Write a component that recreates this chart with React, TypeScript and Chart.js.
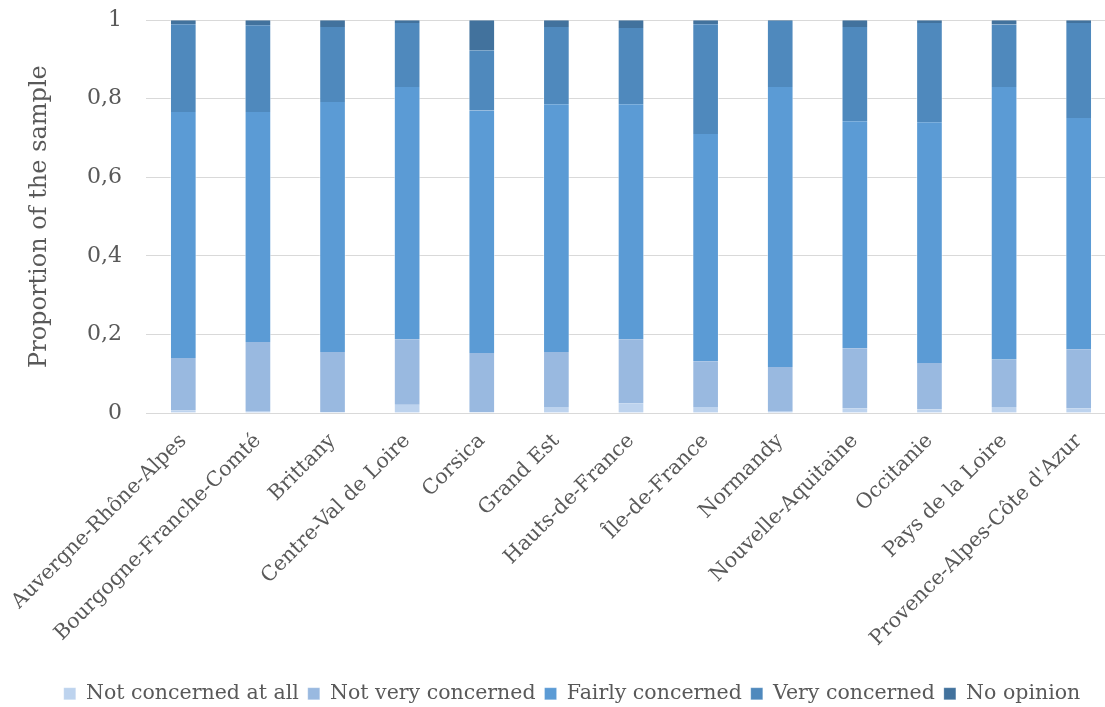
import React, { useEffect, useRef } from "react";
import { Chart, registerables } from "chart.js";

Chart.register(...registerables);

const categories = [
  "Auvergne-Rhône-Alpes",
  "Bourgogne-Franche-Comté",
  "Brittany",
  "Centre-Val de Loire",
  "Corsica",
  "Grand Est",
  "Hauts-de-France",
  "Île-de-France",
  "Normandy",
  "Nouvelle-Aquitaine",
  "Occitanie",
  "Pays de la Loire",
  "Provence-Alpes-Côte d'Azur",
];

const notConcernedAtAll = [0.007, 0.005, 0.002, 0.021, 0.002, 0.015, 0.025, 0.015, 0.005, 0.012, 0.009, 0.015, 0.012];
const notVeryConcerned = [0.133, 0.176, 0.153, 0.167, 0.151, 0.14, 0.163, 0.117, 0.112, 0.153, 0.118, 0.121, 0.15];
const fairlyConcerned = [0.626, 0.585, 0.637, 0.642, 0.617, 0.631, 0.598, 0.578, 0.713, 0.578, 0.613, 0.694, 0.589];
const veryConcerned = [0.224, 0.221, 0.191, 0.163, 0.153, 0.197, 0.194, 0.28, 0.168, 0.24, 0.253, 0.159, 0.242];
const noOpinion = [0.01, 0.013, 0.017, 0.007, 0.077, 0.017, 0.02, 0.01, 0.002, 0.017, 0.007, 0.011, 0.007];

const seriesNames = ["Not concerned at all", "Not very concerned", "Fairly concerned", "Very concerned", "No opinion"];
const seriesColors = ["#BDD3EE", "#99B9E0", "#5B9BD5", "#4F89BD", "#42729D"];
const yTickLabels = ["0", "0,2", "0,4", "0,6", "0,8", "1"];

const FONT = "'DejaVu Serif', serif";
const TEXT = "#595959";

export default function App() {
  const ref = useRef<HTMLCanvasElement | null>(null);

  useEffect(() => {
    if (!ref.current) return;
    const seriesData = [notConcernedAtAll, notVeryConcerned, fairlyConcerned, veryConcerned, noOpinion];
    const chart = new Chart(ref.current, {
      type: "bar",
      data: {
        labels: categories,
        datasets: seriesNames.map((name, i) => ({
          label: name,
          data: seriesData[i],
          backgroundColor: seriesColors[i],
          borderColor: "rgba(255,255,255,0.45)",
          borderWidth: { left: 1, right: 1, top: 0, bottom: 0 },
          borderSkipped: false,
          barThickness: 26,
        })),
      },
      options: {
        responsive: false,
        animation: false,
        layout: { padding: { left: 28, right: 4, top: -4, bottom: -7 } },
        plugins: {
          legend: {
            position: "bottom",
            labels: {
              boxWidth: 12,
              boxHeight: 12,
              padding: 9,
              color: TEXT,
              font: { family: FONT, size: 20.5 },
            },
          },
          tooltip: { enabled: false },
        },
        scales: {
          x: {
            stacked: true,
            grid: { display: false },
            border: { color: "#d9d9d9", width: 1 },
            ticks: {
              color: TEXT,
              font: { family: FONT, size: 20.5 },
              maxRotation: 45,
              minRotation: 45,
              padding: 8,
              autoSkip: false,
            },
            afterFit: (scale: any) => {
              scale.height = 261.5;
            },
          },
          y: {
            stacked: true,
            min: 0,
            max: 1,
            ticks: {
              stepSize: 0.2,
              color: TEXT,
              padding: 24,
              font: { family: FONT, size: 22 },
              callback: (_v: any, i: number) => yTickLabels[i],
            },
            grid: { color: "#d9d9d9", lineWidth: 1, drawTicks: false },
            border: { display: false },
            title: {
              display: true,
              text: "Proportion of the sample",
              color: TEXT,
              font: { family: FONT, size: 24 },
              padding: { top: -3, bottom: 0 },
            },
            afterFit: (scale: any) => {
              scale.width = 118;
            },
          },
        },
      },
    });
    return () => chart.destroy();
  }, []);

  return (
    <div style={{ position: "fixed", left: 0, top: 0, width: 1105, height: 707, overflow: "hidden", background: "#fff" }}>
      <canvas
        ref={ref}
        width={1120}
        height={724}
        style={{ position: "absolute", left: 0, top: -17, width: 1120, height: 724, display: "block" }}
      />
    </div>
  );
}
